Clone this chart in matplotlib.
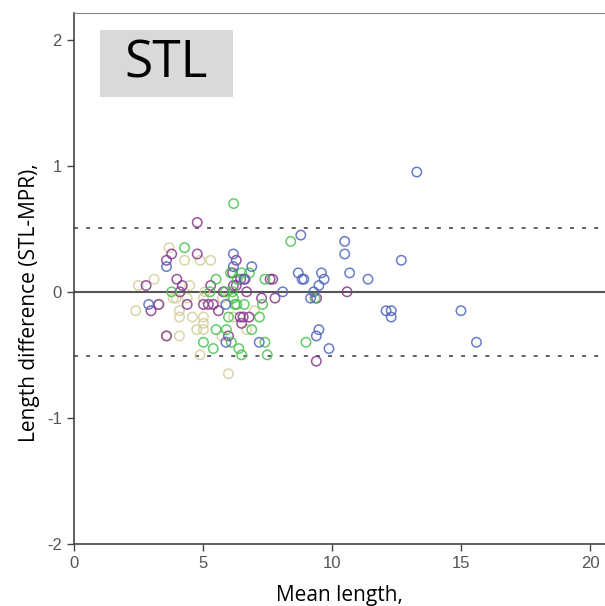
import matplotlib
matplotlib.use("Agg")
import matplotlib.pyplot as plt
from matplotlib.patches import Rectangle

plt.rcParams["axes.unicode_minus"] = False

# mean length / difference pairs, one set per group colour
blue_x = [13.29, 8.8, 10.5, 10.5, 12.69, 8.7, 8.85, 8.92, 9.6, 9.7, 10.69, 11.4, 9.5,
          8.1, 9.3, 9.18, 12.1, 12.3, 12.3, 15.0, 15.6, 9.5, 9.4, 9.89,
          6.19, 6.19, 6.9, 5.9, 5.9, 7.19, 3.6, 2.91, 6.6]
blue_y = [0.95, 0.45, 0.40, 0.30, 0.25, 0.15, 0.10, 0.10, 0.15, 0.10, 0.15, 0.10, 0.05,
          0.0, 0.0, -0.05, -0.15, -0.15, -0.20, -0.15, -0.40, -0.30, -0.35, -0.45,
          0.30, 0.20, 0.20, -0.10, -0.40, -0.40, 0.20, -0.10, 0.10]

green_x = [8.41, 9.0, 9.35, 7.5, 6.2, 4.3, 6.08, 6.51, 6.81, 5.52, 6.34, 7.41, 3.8,
           5.28, 5.87, 6.16, 6.19, 6.25, 6.32, 6.61, 7.32, 6.0, 7.2, 5.52, 5.92, 6.9,
           5.03, 6.11, 7.41, 5.41, 6.4, 6.51]
green_y = [0.40, -0.40, -0.05, -0.50, 0.70, 0.35, 0.15, 0.15, 0.15, 0.10, 0.10, 0.10, 0.0,
           0.0, 0.0, 0.0, -0.05, -0.10, -0.10, -0.10, -0.10, -0.20, -0.20, -0.30, -0.30, -0.30,
           -0.40, -0.40, -0.40, -0.45, -0.45, -0.50]

purple_x = [4.79, 4.79, 3.8, 3.6, 6.3, 6.16, 6.47, 6.64, 7.61, 7.71, 4.0, 2.81, 4.21,
            5.31, 6.19, 6.3, 4.12, 5.8, 6.7, 10.59, 7.8, 7.28, 9.41, 4.4, 5.03, 5.22,
            5.41, 5.61, 3.0, 3.3, 6.45, 6.57, 6.8, 6.51, 6.0, 9.4, 3.6]
purple_y = [0.55, 0.30, 0.30, 0.25, 0.25, 0.15, 0.10, 0.10, 0.10, 0.10, 0.10, 0.05, 0.05,
            0.05, 0.05, 0.05, 0.0, 0.0, 0.0, 0.0, -0.05, -0.05, -0.05, -0.10, -0.10, -0.10,
            -0.10, -0.15, -0.15, -0.10, -0.20, -0.20, -0.20, -0.25, -0.35, -0.55, -0.35]

khaki_x = [3.7, 4.3, 4.9, 5.31, 3.12, 2.51, 4.5, 3.86, 3.97, 4.4, 5.03, 5.76, 2.41,
           4.1, 4.1, 4.6, 5.03, 7.0, 5.03, 4.77, 5.03, 6.7, 5.74, 4.1, 4.9, 6.0,
           5.09, 3.3, 3.6, 6.2]
khaki_y = [0.35, 0.25, 0.25, 0.25, 0.10, 0.05, 0.05, -0.05, -0.05, -0.05, -0.05, -0.05, -0.15,
           -0.15, -0.20, -0.20, -0.20, -0.15, -0.25, -0.30, -0.30, -0.30, -0.35, -0.35, -0.50, -0.65,
           0.0, -0.10, -0.35, -0.20]

limit = 0.51
x_ticks = [0, 5, 10, 15, 20]
y_ticks = [-2, -1, 0, 1, 2]

fig = plt.figure(figsize=(6.05, 6.06), dpi=100)
ax = fig.add_axes([0.1215, 0.1023, 0.8795, 0.876])

groups = [(khaki_x, khaki_y, "#d4cd9a"), (purple_x, purple_y, "#86378d"),
          (green_x, green_y, "#46c44e"), (blue_x, blue_y, "#5065bf")]
for xs, ys, col in groups:
    ax.scatter(xs, ys, s=46, facecolors="none", edgecolors=col, linewidths=1.1, alpha=0.85, zorder=3)

ax.axhline(0, color="#555555", lw=1.5, zorder=2)
for v in (limit, -limit):
    ax.axhline(v, color="#555555", lw=1.3, linestyle=(0, (2.2, 4.5)), zorder=2)

ax.set_xlim(0, 20.6)
ax.set_ylim(-2, 2.21)
ax.set_xticks(x_ticks)
ax.set_yticks(y_ticks)
ax.tick_params(direction="out", length=5, width=1, color="#444444", labelcolor="#555555", labelsize=12)
for lab in ax.get_xticklabels() + ax.get_yticklabels():
    lab.set_family(["Liberation Sans Narrow", "Liberation Sans"])
ax.spines["right"].set_visible(False)
ax.spines["top"].set_color("#888888")
for s in ("left", "bottom"):
    ax.spines[s].set_color("#444444")
    ax.spines[s].set_linewidth(1.2)

ax.set_xlabel("Mean length,", family="Open Sans", fontsize=15, labelpad=10)
ax.set_ylabel("Length difference (STL-MPR),", family="Open Sans", fontsize=15)
ax.yaxis.set_label_coords(-0.082, 0.455)
ax.yaxis.label.set_va("center")

fig.patches.append(Rectangle((100 / 605, 1 - 97 / 606), 133 / 605, 67 / 606,
                             transform=fig.transFigure, facecolor="#d9d9d9", edgecolor="none"))
fig.text(166.5 / 605, 1 - 64 / 606, "STL", family="Open Sans", fontsize=37,
         ha="center", va="center")

fig.savefig("out.png", dpi=100)
